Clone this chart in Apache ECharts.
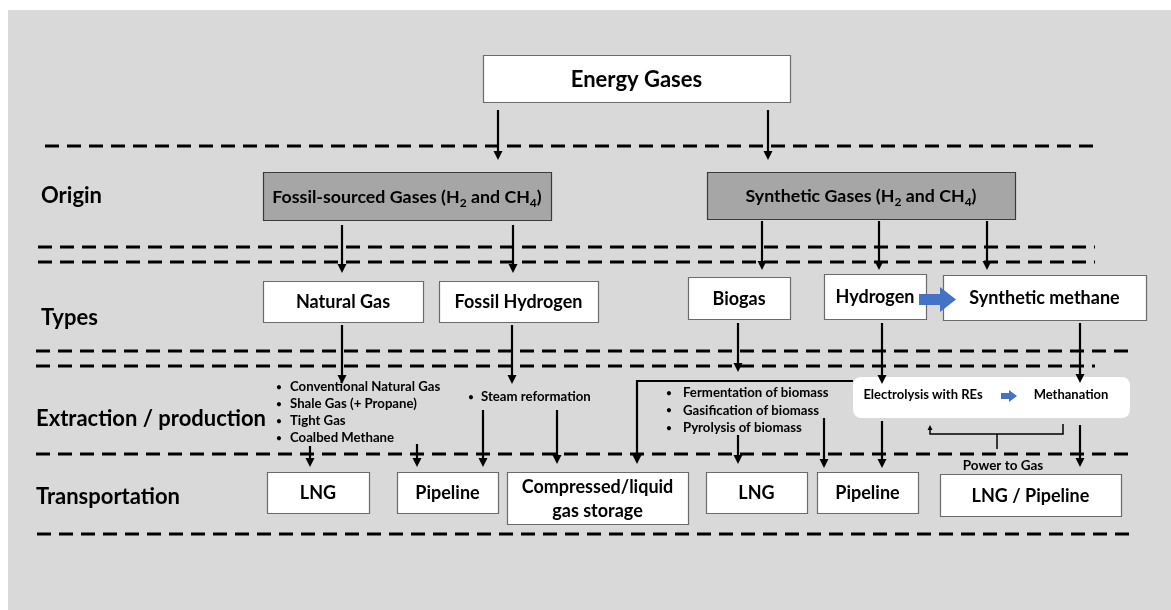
<!DOCTYPE html>
<html>
<head>
<meta charset="utf-8">
<script src="https://cdn.jsdelivr.net/npm/echarts@6/dist/echarts.min.js"></script>
<style>
  html, body { margin: 0; padding: 0; background: #fff; }
  #chart { width: 1171px; height: 610px; }
</style>
</head>
<body>
<div id="chart"></div>
<script>
// ---- content ----
const rowLabels = ['Origin', 'Types', 'Extraction / production', 'Transportation']

// "_2" marks a subscript digit
const boxLabels = [
  'Energy Gases',
  'Fossil-sourced Gases (H_2 and CH_4)', 'Synthetic Gases (H_2 and CH_4)',
  'Natural Gas', 'Fossil Hydrogen', 'Biogas', 'Hydrogen', 'Synthetic methane',
  'LNG', 'Pipeline', 'Compressed/liquid\ngas storage', 'LNG', 'Pipeline', 'LNG / Pipeline'
]
const boxKinds = [
  'root',
  'origin', 'origin',
  'type', 'type', 'type', 'type', 'type',
  'transport', 'transport', 'transport', 'transport', 'transport', 'transport'
]

const fossilMethods = ['Conventional Natural Gas', 'Shale Gas (+ Propane)', 'Tight Gas', 'Coalbed Methane']
const hydrogenMethods = ['Steam reformation']
const biogasMethods = ['Fermentation of biomass', 'Gasification of biomass', 'Pyrolysis of biomass']
const powerToGasSteps = ['Electrolysis with REs', 'Methanation']
const bracketLabel = 'Power to Gas'

// ---- layout (axis units: 0..1171 across, 0..610 down) ----
const panelRect = [[8, 10, 1171, 610]]
const rowLabelAt = [[41, 196], [41, 318], [36, 419], [36, 497]]
const boxRects = [
  [483, 55, 790, 102],
  [263, 172, 551, 220], [707, 172, 1015, 219],
  [263, 281, 423, 322], [439, 281, 598, 322], [688, 277, 790, 319], [824, 274, 926, 319], [943, 275, 1146, 320],
  [267, 472, 369, 513], [397, 472, 498, 513], [507, 472, 688, 524], [706, 472, 807, 513], [817, 472, 918, 513], [940, 474, 1121, 516]
]
const dashRows = [
  [45, 146, 1101, 146],
  [38, 247, 1095, 247], [38, 262, 1095, 262],
  [36, 351, 1130, 351], [36, 366, 1095, 366],
  [36, 454, 1128, 454],
  [37, 534, 1133, 534]
]
// [bulletX, textX, firstY, step]
const listAt = [[279, 290, 387, 17], [471, 481, 397, 17], [669, 683, 393, 17.5]]
const processRect = [[853, 377, 1130, 418]]
const processTextAt = [[923, 395], [1071, 395]]
const arrowPaths = [
  [[498, 110], [498, 160]], [[768, 110], [768, 160]],
  [[342, 225], [342, 273]], [[513, 225], [513, 273]],
  [[762, 221], [762, 270]], [[879, 221], [879, 270]], [[987, 221], [987, 270]],
  [[342, 325], [342, 384]], [[512, 325], [512, 384]],
  [[738, 323], [738, 372]], [[882, 323], [882, 384]], [[1080, 323], [1080, 383]],
  [[853, 381], [637, 381], [637, 464]],
  [[310, 446], [310, 467]], [[417, 444], [417, 467]],
  [[483, 410], [483, 467]], [[557, 410], [557, 464]],
  [[738, 435], [738, 464]], [[824, 418], [824, 468]], [[882, 421], [882, 468]], [[1080, 425], [1080, 467]]
]
const blueArrows = [
  [[919, 294], [940, 294], [940, 287], [956, 299.5], [940, 312], [940, 305], [919, 305]],
  [[1001, 393], [1009, 393], [1009, 390], [1017, 396], [1009, 402], [1009, 399], [1001, 399]]
]
const bracketPath = [[1063, 424], [1063, 434], [930, 434], [930, 425]]
const bracketStem = [[997, 434], [997, 449]]
const bracketLabelAt = [[1003, 466]]

const FONT = 'Lato, "Open Sans", sans-serif'
const boxStyle = {
  root: { fill: '#fff', stroke: '#6b6b6b', size: 22 },
  origin: { fill: '#a6a6a6', stroke: '#3a3a3a', size: 17.8 },
  type: { fill: '#fff', stroke: '#6b6b6b', size: 18 },
  transport: { fill: '#fff', stroke: '#6b6b6b', size: 18 }
}

function richLabel(text) {
  const parts = text.split(/_(\d)/)
  return parts.map((p, i) => (i % 2 ? '{s|' + p + '}' : (p ? '{b|' + p + '}' : ''))).join('')
}
function richStyles(size) {
  return {
    b: { fontSize: size, fontWeight: 'bold', fontFamily: FONT, lineHeight: Math.round(size * 1.35), fill: '#000' },
    s: { fontSize: Math.round(size * 0.66), fontWeight: 'bold', fontFamily: FONT, lineHeight: Math.round(size * 0.66), verticalAlign: 'bottom', fill: '#000' }
  }
}
function pt(api, p) { return api.coord(p) }

function arrowShape(api, path, lw, head, color) {
  const pts = path.map(p => pt(api, p))
  const n = pts.length
  const a = pts[n - 2], b = pts[n - 1]
  const dx = b[0] - a[0], dy = b[1] - a[1]
  const len = Math.sqrt(dx * dx + dy * dy)
  const ux = dx / len, uy = dy / len
  const base = [b[0] - ux * head, b[1] - uy * head]
  const w = head * 0.5
  const line = pts.slice(0, n - 1).concat([base])
  return [
    { type: 'polyline', shape: { points: line }, style: { stroke: color, lineWidth: lw, fill: null } },
    { type: 'polygon', shape: { points: [b, [base[0] - uy * w, base[1] + ux * w], [base[0] + uy * w, base[1] - ux * w]] }, style: { fill: color } }
  ]
}

const base = { type: 'custom', coordinateSystem: 'cartesian2d', silent: true, clip: false, animation: false }

const chart = echarts.init(document.getElementById('chart'))
chart.setOption({
  backgroundColor: '#fff',
  animation: false,
  grid: { left: 0, right: 0, top: 0, bottom: 0 },
  xAxis: { type: 'value', min: 0, max: 1171, show: false },
  yAxis: { type: 'value', min: 0, max: 610, inverse: true, show: false },
  series: [
    {
      ...base, name: 'panel', data: panelRect, encode: { x: [0, 2], y: [1, 3] },
      renderItem: (params, api) => {
        const p0 = pt(api, [api.value(0), api.value(1)]), p1 = pt(api, [api.value(2), api.value(3)])
        return { type: 'rect', shape: { x: p0[0], y: p0[1], width: p1[0] - p0[0], height: p1[1] - p0[1] }, style: { fill: '#d9d9d9' } }
      }
    },
    {
      ...base, name: 'dividers', data: dashRows, encode: { x: [0, 2], y: [1, 3] },
      renderItem: (params, api) => {
        const p0 = pt(api, [api.value(0), api.value(1)]), p1 = pt(api, [api.value(2), api.value(3)])
        return { type: 'line', shape: { x1: p0[0], y1: p0[1], x2: p1[0], y2: p1[1] }, style: { stroke: '#000', lineWidth: 3, lineDash: [14, 8] } }
      }
    },
    {
      ...base, name: 'rows', data: rowLabelAt, encode: { x: 0, y: 1 },
      renderItem: (params, api) => {
        const p = pt(api, [api.value(0), api.value(1)])
        return { type: 'text', style: { text: rowLabels[params.dataIndex], x: p[0], y: p[1], verticalAlign: 'middle', fontSize: 22, fontWeight: 'bold', fontFamily: FONT, fill: '#000' } }
      }
    },
    {
      ...base, name: 'process', data: processRect, encode: { x: [0, 2], y: [1, 3] },
      renderItem: (params, api) => {
        const p0 = pt(api, [api.value(0), api.value(1)]), p1 = pt(api, [api.value(2), api.value(3)])
        return { type: 'rect', shape: { x: p0[0], y: p0[1], width: p1[0] - p0[0], height: p1[1] - p0[1], r: 8 }, style: { fill: '#fff' } }
      }
    },
    {
      ...base, name: 'processSteps', data: processTextAt, encode: { x: 0, y: 1 },
      renderItem: (params, api) => {
        const p = pt(api, [api.value(0), api.value(1)])
        return { type: 'text', style: { text: powerToGasSteps[params.dataIndex], x: p[0], y: p[1], align: 'center', verticalAlign: 'middle', fontSize: 13, fontWeight: 'bold', fontFamily: FONT, fill: '#000' } }
      }
    },
    {
      ...base, name: 'boxes', data: boxRects, encode: { x: [0, 2], y: [1, 3] },
      renderItem: (params, api) => {
        const i = params.dataIndex
        const st = boxStyle[boxKinds[i]]
        const p0 = pt(api, [api.value(0), api.value(1)]), p1 = pt(api, [api.value(2), api.value(3)])
        return {
          type: 'group', children: [
            { type: 'rect', shape: { x: p0[0] + 0.5, y: p0[1] + 0.5, width: p1[0] - p0[0], height: p1[1] - p0[1] }, style: { fill: st.fill, stroke: st.stroke, lineWidth: 1.2 } },
            { type: 'text', style: { text: richLabel(boxLabels[i]), x: (p0[0] + p1[0]) / 2, y: (p0[1] + p1[1]) / 2 + 1, align: 'center', verticalAlign: 'middle', rich: richStyles(st.size) } }
          ]
        }
      }
    },
    {
      ...base, name: 'methods', data: listAt, encode: { x: [0, 1], y: 2 },
      renderItem: (params, api) => {
        const items = [fossilMethods, hydrogenMethods, biogasMethods][params.dataIndex]
        const bx = api.value(0), tx = api.value(1), y0 = api.value(2), step = api.value(3)
        const children = []
        items.forEach((t, k) => {
          const pb = pt(api, [bx, y0 + k * step]), ptx = pt(api, [tx, y0 + k * step])
          children.push({ type: 'text', style: { text: '•', x: pb[0], y: pb[1], align: 'center', verticalAlign: 'middle', fontSize: 11, fontFamily: FONT, fill: '#000' } })
          children.push({ type: 'text', style: { text: t, x: ptx[0], y: ptx[1], verticalAlign: 'middle', fontSize: 13.2, fontWeight: 'bold', fontFamily: FONT, fill: '#000' } })
        })
        return { type: 'group', children }
      }
    },
    {
      ...base, name: 'arrows', data: arrowPaths.map(p => p[0]), encode: { x: 0, y: 1 },
      renderItem: (params, api) => ({ type: 'group', children: arrowShape(api, arrowPaths[params.dataIndex], 2.2, 9, '#000') })
    },
    {
      ...base, name: 'blueArrows', data: blueArrows.map(p => p[0]), encode: { x: 0, y: 1 },
      renderItem: (params, api) => ({ type: 'polygon', shape: { points: blueArrows[params.dataIndex].map(p => pt(api, p)) }, style: { fill: '#4472c4' } })
    },
    {
      ...base, name: 'powerToGas', data: bracketLabelAt, encode: { x: 0, y: 1 },
      renderItem: (params, api) => {
        const p = pt(api, [api.value(0), api.value(1)])
        const stem = bracketStem.map(q => pt(api, q))
        return {
          type: 'group', children: arrowShape(api, bracketPath, 1.5, 5, '#000').concat([
            { type: 'line', shape: { x1: stem[0][0], y1: stem[0][1], x2: stem[1][0], y2: stem[1][1] }, style: { stroke: '#000', lineWidth: 1.5 } },
            { type: 'text', style: { text: bracketLabel, x: p[0], y: p[1], align: 'center', verticalAlign: 'middle', fontSize: 13.5, fontWeight: 'bold', fontFamily: FONT, fill: '#000' } }
          ])
        }
      }
    }
  ]
})
</script>
</body>
</html>
